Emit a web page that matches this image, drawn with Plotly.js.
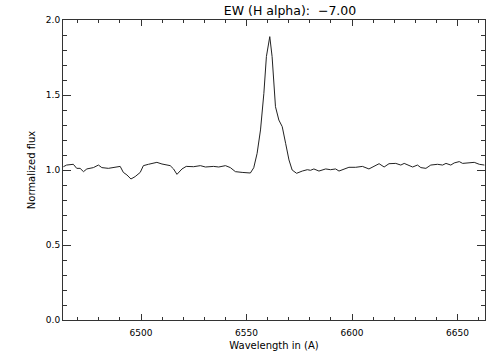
<!DOCTYPE html>
<html>
<head>
<meta charset="utf-8">
<script src="https://cdn.plot.ly/plotly-3.0.1.min.js"></script>
<style>html,body{margin:0;padding:0;background:#fff;}#plot{width:504px;height:360px;}</style>
</head>
<body>
<div id="plot"></div>
<script>
const wavelength = [
6463.2,6464.7,6467.9,6469.5,6471.1,6472.7,6474.3,6477.4,6479.8,6481.4,
6484.5,6487.7,6490.1,6491.6,6493.3,6495.2,6497.2,6499.6,6501.1,6503.5,
6507.5,6509.9,6513.8,6515.4,6517.0,6519.4,6521.4,6524.9,6528.1,6530.5,
6534.4,6536.8,6540.0,6542.3,6544.7,6547.9,6551.8,6553.4,6555.0,6556.6,
6558.2,6559.4,6561.0,6562.1,6562.9,6563.7,6565.3,6566.9,6568.5,6570.1,
6571.6,6573.7,6576.4,6578.8,6580.3,6581.9,6584.3,6587.5,6589.8,6592.2,
6593.8,6596.2,6598.5,6601.7,6604.9,6608.0,6610.4,6612.8,6615.2,6617.5,
6620.7,6623.1,6624.7,6627.0,6628.7,6631.0,6632.6,6635.0,6637.3,6640.5,
6642.9,6644.5,6646.8,6648.4,6650.8,6652.4,6654.8,6657.9,6660.3,6662.7];
const flux = [
1.022,1.033,1.038,1.011,1.011,0.989,1.007,1.016,1.033,1.016,
1.011,1.016,1.024,0.984,0.967,0.940,0.956,0.984,1.029,1.038,
1.051,1.040,1.029,1.007,0.971,1.007,1.024,1.022,1.029,1.020,
1.024,1.020,1.029,1.016,0.989,0.984,0.980,1.015,1.111,1.267,
1.511,1.756,1.889,1.756,1.600,1.422,1.333,1.289,1.178,1.067,
1.000,0.978,0.993,1.002,0.998,1.007,0.993,1.007,1.002,1.007,
0.993,1.007,1.018,1.018,1.024,1.007,1.022,1.042,1.020,1.042,
1.044,1.033,1.044,1.029,1.020,1.033,1.016,1.011,1.033,1.038,
1.033,1.044,1.033,1.047,1.056,1.044,1.047,1.051,1.038,1.033];
const xTickVals = [6500, 6550, 6600, 6650];
const xTickText = ["6500", "6550", "6600", "6650"];
const yTickVals = [0.0, 0.5, 1.0, 1.5, 2.0];
const yTickText = ["0.0", "0.5", "1.0", "1.5", "2.0"];
const titleText = "EW (H alpha):  \u22127.00";
const xTitle = "Wavelength in (A)";
const yTitle = "Normalized flux";

const axisColor = "#333";
const fontFam = "DejaVu Sans, sans-serif";

const trace = {
  x: wavelength, y: flux, type: "scatter", mode: "lines",
  line: {color: "#222", width: 1}, hoverinfo: "skip"
};

const layout = {
  width: 504, height: 360,
  margin: {l: 63, r: 19, t: 20, b: 40, pad: 0},
  paper_bgcolor: "#fff", plot_bgcolor: "#fff",
  showlegend: false,
  font: {family: fontFam, size: 9, color: "#000"},
  title: {
    text: titleText, font: {family: fontFam, size: 12.5, color: "#000"},
    xref: "paper", x: 0.538, xanchor: "center",
    yref: "container", y: 1 - 11/360, yanchor: "middle"
  },
  xaxis: {
    range: [6463, 6663], showgrid: false, zeroline: false,
    showline: true, linecolor: axisColor, linewidth: 1, mirror: "allticks",
    ticks: "inside", ticklen: 6, tickwidth: 1, tickcolor: axisColor,
    tickmode: "array", tickvals: xTickVals, ticktext: xTickText,
    ticklabelstandoff: 4,
    tickfont: {family: fontFam, size: 9, color: "#000"},
    minor: {dtick: 10, tick0: 6500, ticks: "inside", ticklen: 3, tickwidth: 1, tickcolor: axisColor, showgrid: false},
    title: {text: xTitle, font: {family: fontFam, size: 10, color: "#000"}, standoff: 5}
  },
  yaxis: {
    range: [0, 2], showgrid: false, zeroline: false,
    showline: true, linecolor: axisColor, linewidth: 1, mirror: "allticks",
    ticks: "inside", ticklen: 8, tickwidth: 1, tickcolor: axisColor,
    tickmode: "array", tickvals: yTickVals, ticktext: yTickText,
    tickfont: {family: fontFam, size: 9, color: "#000"},
    minor: {dtick: 0.1, tick0: 0, ticks: "inside", ticklen: 4, tickwidth: 1, tickcolor: axisColor, showgrid: false},
    title: {text: yTitle, font: {family: fontFam, size: 10, color: "#000"}, standoff: 8}
  }
};

Plotly.newPlot("plot", [trace], layout, {staticPlot: true, displayModeBar: false});
</script>
</body>
</html>
